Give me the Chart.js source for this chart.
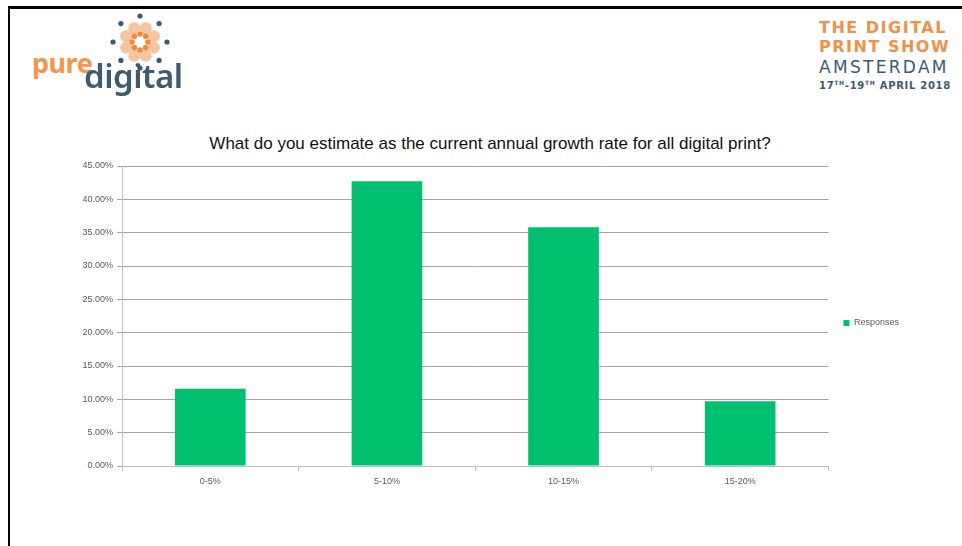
<!DOCTYPE html>
<html>
<head>
<meta charset="utf-8">
<script src="https://cdn.jsdelivr.net/npm/chart.js@4/dist/chart.umd.min.js"></script>
<style>
  body { margin: 0; background: #fff; }
  .page { position: relative; width: 962px; height: 546px; overflow: hidden; background: #fff; }
  .frame { position: absolute; left: 8px; top: 6px; width: 1000px; height: 600px; border-top: 3px solid #000; border-left: 2px solid #000; }
  #chart { position: absolute; left: 0; top: 0; }
  #flower { position: absolute; left: 107px; top: 11px; }
  .pure { position: absolute; left: 32px; top: 44px; font: 700 27px "Noto Sans", sans-serif; color: #f0974d; letter-spacing: -0.5px; }
  .digital { position: absolute; left: 84px; top: 53px; font: 600 33px "Noto Sans", sans-serif; color: #3e5a6c; letter-spacing: -0.5px; }
  .show { position: absolute; left: 819px; top: 20px; width: 132px; font-family: "DejaVu Sans", sans-serif; }
  .show div { white-space: nowrap; line-height: 1; }
  .l1, .l2 { font-weight: 700; font-size: 16px; color: #ef9248; letter-spacing: 1.5px; height: 19px; }
  .l3 { font-size: 17px; color: #3e5a6c; letter-spacing: 2.3px; height: 21px; margin-top: 1px; }
  .l4 { font-weight: 700; font-size: 10px; color: #3e5a6c; letter-spacing: 0.7px; }
  .l4 sup { font-size: 6px; vertical-align: 4px; }
  .title { position: absolute; left: 190px; top: 134px; width: 600px; text-align: center; font: 17px "Liberation Sans", sans-serif; line-height: 20px; color: #111; white-space: nowrap; }
</style>
</head>
<body>
<div class="page">
  <div class="frame"></div>
  <canvas id="flower" width="66" height="64"></canvas>
  <div class="pure">pure</div>
  <div class="digital">digital</div>
  <div class="show">
    <div class="l1">THE DIGITAL</div>
    <div class="l2">PRINT SHOW</div>
    <div class="l3">AMSTERDAM</div>
    <div class="l4">17<sup>TH</sup>-19<sup>TH</sup> APRIL 2018</div>
  </div>
  <div class="title">What do you estimate as the current annual growth rate for all digital print?</div>
  <canvas id="chart" width="962" height="546"></canvas>
</div>
<script>
// survey answers
const categories = ['0-5%', '5-10%', '10-15%', '15-20%'];
const responses = [11.6, 42.7, 35.8, 9.7];
const seriesName = 'Responses';
const yMax = 45;
const yStep = 5;

// logo dots: dark outer ring, peach petals, orange inner ring
const fl = document.getElementById('flower').getContext('2d');
function dot(x, y, r, c) {
  fl.beginPath();
  fl.arc(x, y, r, 0, Math.PI * 2);
  fl.fillStyle = c;
  fl.fill();
}
const cx = 33, cy = 31;
for (let i = 0; i < 8; i++) {
  const a = i * Math.PI / 4 - Math.PI / 2;
  dot(cx + Math.cos(a) * 27, cy + Math.sin(a) * 26, 2.6, '#3e5a6c');
  const b = a + Math.PI / 8;
  dot(cx + Math.cos(b) * 15, cy + Math.sin(b) * 15, 6, '#f7c4a0');
  dot(cx + Math.cos(a) * 8, cy + Math.sin(a) * 8, 2.8, '#ee8a3c');
}

// nudge the right-hand legend up a little after layout
const legendLift = {
  id: 'legendLift',
  afterLayout(chart) {
    chart.legend.top -= 16;
    chart.legend.bottom -= 16;
  }
};

const ctx = document.getElementById('chart').getContext('2d');
new Chart(ctx, {
  type: 'bar',
  data: {
    labels: categories,
    datasets: [{
      label: seriesName,
      data: responses,
      backgroundColor: '#00bf6f',
      barPercentage: 0.4,
      categoryPercentage: 1
    }]
  },
  options: {
    responsive: false,
    animation: false,
    layout: { padding: { top: 166, right: 53, bottom: 34, left: 0 } },
    scales: {
      x: {
        grid: { drawOnChartArea: false, tickLength: 5, tickColor: '#bfbfbf', offset: true },
        border: { color: '#bfbfbf' },
        ticks: { color: '#595959', font: { family: 'Liberation Sans', size: 9 }, padding: 5, maxRotation: 0 },
        afterFit: (scale) => { scale.height = 46; }
      },
      y: {
        min: 0,
        max: yMax,
        grid: { color: '#a6a6a6', tickLength: 5, tickColor: '#a6a6a6' },
        border: { color: '#bfbfbf' },
        ticks: {
          stepSize: yStep,
          color: '#595959',
          font: { family: 'Liberation Sans', size: 9 },
          padding: 4,
          callback: (v) => v.toFixed(2) + '%'
        },
        afterFit: (scale) => { scale.width = 122; }
      }
    },
    plugins: {
      legend: {
        position: 'right',
        labels: {
          boxWidth: 6,
          boxHeight: 6,
          padding: 15,
          color: '#595959',
          font: { family: 'Liberation Sans', size: 9 }
        }
      },
      tooltip: { enabled: false }
    }
  },
  plugins: [legendLift]
});
</script>
</body>
</html>
